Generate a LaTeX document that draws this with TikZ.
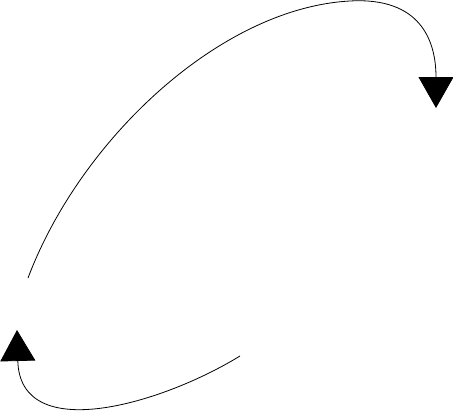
\documentclass[tikz,border=0pt]{standalone}
\usetikzlibrary{arrows.meta}
\begin{document}
\begin{tikzpicture}[x=1pt,y=-1pt,
  curve/.style={line width=0.8pt,-{Triangle[length=31pt,width=35pt]}}]
\useasboundingbox (0,0) rectangle (453,415);
\coordinate (a1) at (28,278);
\coordinate (a2) at (436,108);
\coordinate (b1) at (240,356);
\coordinate (b2) at (17,330);
\draw[curve] (a1) .. controls (80,140) and (220,8) .. (350,1) .. controls (420,-3) and (436,40) .. (a2);
\draw[curve] (b1) .. controls (160,405) and (20,445) .. (b2);
\end{tikzpicture}
\end{document}
